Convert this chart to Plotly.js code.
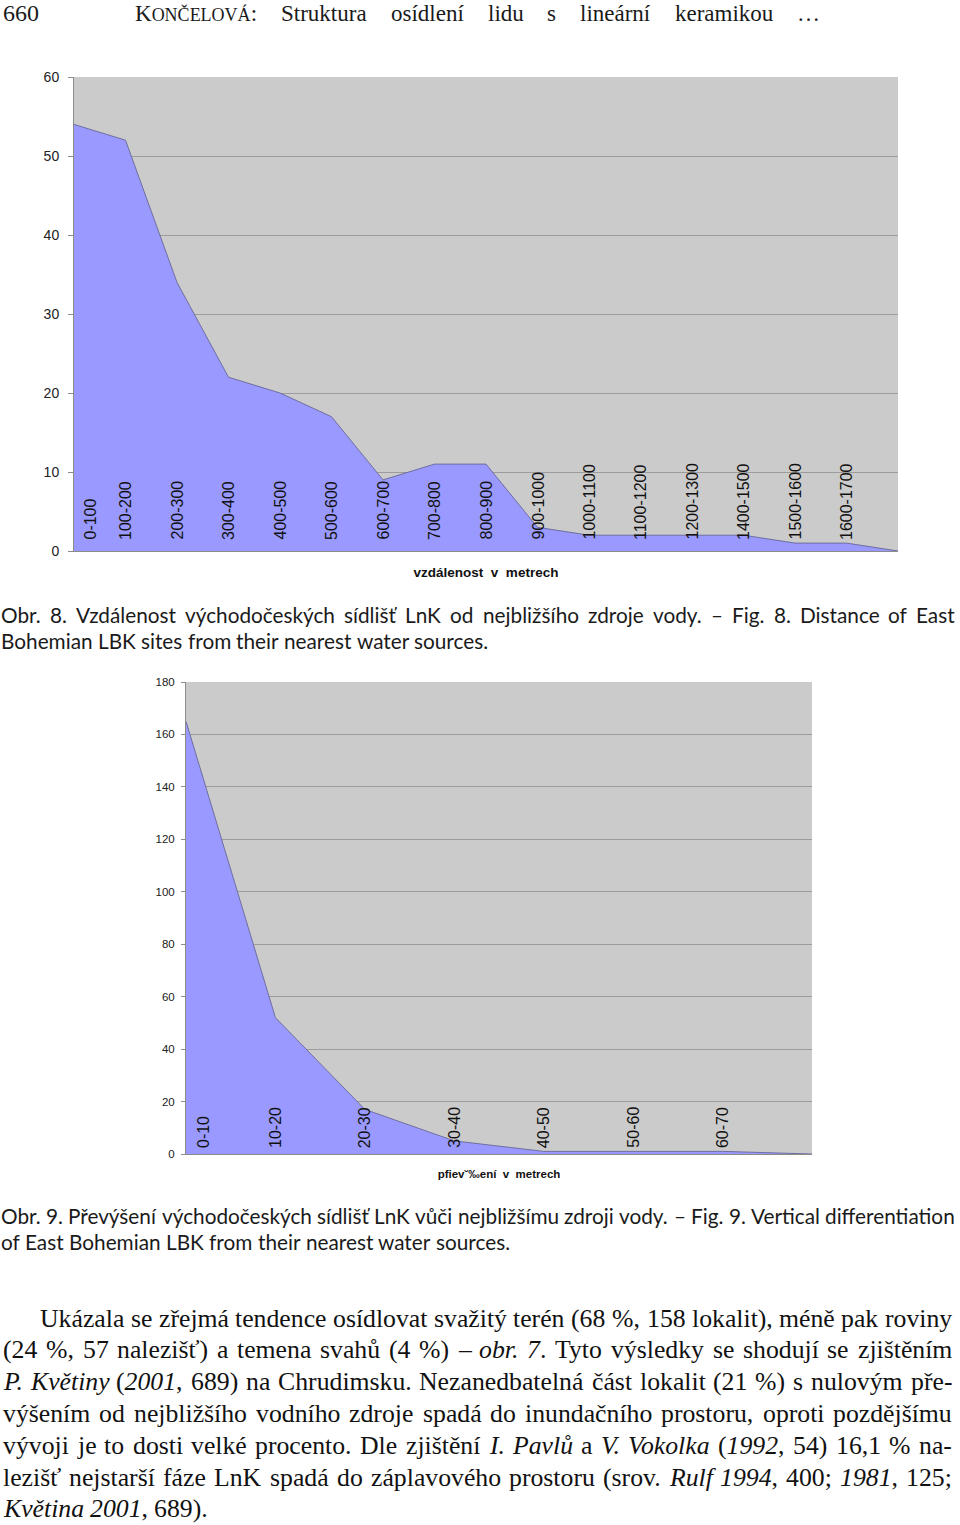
<!DOCTYPE html>
<html><head><meta charset="utf-8">
<script src="https://cdn.plot.ly/plotly-3.0.1.min.js"></script>
<style>html,body{margin:0;padding:0;background:#fff}#page{width:960px;height:1525px}</style>
</head><body><div id="page"></div>
<script>
// ---------- data ----------
const distCategories = ['0-100','100-200','200-300','300-400','400-500','500-600','600-700','700-800','800-900','900-1000','1000-1100','1100-1200','1200-1300','1400-1500','1500-1600','1600-1700'];
const distValues = [54,52,34,22,20,17,9,11,11,3,2,2,2,2,1,1,0];
const distYTicks = [0,10,20,30,40,50,60];
const distAxisTitle = 'vzdálenost\u00a0 v\u00a0 metrech';

const elevCategories = ['0-10','10-20','20-30','30-40','40-50','50-60','60-70'];
const elevValues = [165,52,17,5,1,1,1,0];
const elevYTicks = [0,20,40,60,80,100,120,140,160,180];
const elevAxisTitle = 'pfiev˘‰ení\u00a0 v\u00a0 metrech';

const pageNumber = '660';
const headerWords = ['Struktura','osídlení','lidu','s','lineární','keramikou','…'];
const caption8 = ['Obr. 8. Vzdálenost východočeských sídlišť LnK od nejbližšího zdroje vody. – Fig. 8. Distance of East',
                  'Bohemian LBK sites from their nearest water sources.'];
const caption9 = ['Obr. 9. Převýšení východočeských sídlišť LnK vůči nejbližšímu zdroji vody. – Fig. 9. Vertical differentiation',
                  'of East Bohemian LBK from their nearest water sources.'];
const bodyLines = [
  'Ukázala se zřejmá tendence osídlovat svažitý terén (68 %, 158 lokalit), méně pak roviny',
  '(24 %, 57 nalezišť) a temena svahů (4 %) – <i>obr. 7</i>. Tyto výsledky se shodují se zjištěním',
  '<i>P. Květiny</i> (<i>2001</i>, 689) na Chrudimsku. Nezanedbatelná část lokalit (21 %) s nulovým pře-',
  'výšením od nejbližšího vodního zdroje spadá do inundačního prostoru, oproti pozdějšímu',
  'vývoji je to dosti velké procento. Dle zjištění <i>I. Pavlů</i> a <i>V. Vokolka</i> (<i>1992</i>, 54) 16,1 % na-',
  'lezišť nejstarší fáze LnK spadá do záplavového prostoru (srov. <i>Rulf 1994</i>, 400; <i>1981</i>, 125;',
  '<i>Květina 2001</i>, 689).'
];

// ---------- text layout helpers ----------
const W = 960, H = 1525;
const ctx = document.createElement('canvas').getContext('2d');
function segW(s, fam, fs){ ctx.font = (s.it?'italic ':'') + (s.fs||fs) + 'px "' + fam + '"'; return ctx.measureText(s.t).width; }
function parseLine(str){
  const words = []; let it = false;
  for (const w of str.split(' ')){
    const segs = []; const re = /<i>|<\/i>/g; let last = 0, m;
    while ((m = re.exec(w))){ if (m.index > last) segs.push({t:w.slice(last,m.index), it}); it = (m[0]==='<i>'); last = re.lastIndex; }
    if (last < w.length) segs.push({t:w.slice(last), it});
    words.push(segs);
  }
  return words;
}
function wordHtml(segs){
  return segs.map(s=>{ let t = s.t; if (s.fs) t = '<span style="font-size:'+s.fs+'px">'+t+'</span>'; return s.it ? '<i>'+t+'</i>' : t; }).join('');
}
function naturalWidth(words, fam, fs){
  const sp = segW({t:' '}, fam, fs);
  return words.reduce((a,w)=>a+w.reduce((b,s)=>b+segW(s,fam,fs),0),0) + sp*(words.length-1);
}
const anns = [];
function layLine(words, x0, x1, ypx, fam, fs, color, justify){
  const ws = words.map(w=>w.reduce((a,s)=>a+segW(s,fam,fs),0));
  const total = ws.reduce((a,b)=>a+b,0);
  const gap = (justify && words.length>1) ? (x1-x0-total)/(words.length-1) : segW({t:' '},fam,fs);
  let x = x0;
  words.forEach((w,i)=>{
    anns.push({xref:'paper', yref:'paper', x:x/W, y:1-ypx/H, xanchor:'left', yanchor:'middle',
      text:wordHtml(w), showarrow:false, borderpad:0, borderwidth:0,
      font:{family:fam, size:fs, color:color}});
    x += ws[i] + gap;
  });
}

// ---------- header ----------
const SERIF = 'Liberation Serif', SANS = 'Liberation Sans', CAP = 'Lato';
anns.push({xref:'paper', yref:'paper', x:3/W, y:1-13/H, xanchor:'left', yanchor:'middle', text:pageNumber,
  showarrow:false, borderpad:0, borderwidth:0, font:{family:SERIF, size:24, color:'#1a1a1a'}});
const headWords = [[{t:'K'},{t:'ONČELOVÁ',fs:18},{t:':'}]].concat(headerWords.map(w=>[{t:w}]));
layLine(headWords, 135, 820, 13, SERIF, 23, '#1a1a1a', true);

// ---------- captions (font size calibrated to the printed line widths) ----------
const capLines = [caption8[0], caption8[1], caption9[0], caption9[1]].map(parseLine);
const capTargets = [955, 488, 955, 510];
let capFs = 19;
capFs = capFs * Math.min(...capLines.map((l,i)=>capTargets[i]/naturalWidth(l, CAP, 19)));
layLine(capLines[0], 1, 955, 614, CAP, capFs, '#1a1a1a', true);
layLine(capLines[1], 1, 955, 640, CAP, capFs, '#1a1a1a', false);
layLine(capLines[2], 1, 955, 1215, CAP, capFs, '#1a1a1a', true);
layLine(capLines[3], 1, 955, 1241, CAP, capFs, '#1a1a1a', false);

// ---------- body text ----------
const body = bodyLines.map(parseLine);
const bodyStarts = [40,3,3,3,3,3,3];
let bodyFs = 24;
bodyFs = bodyFs * Math.min(...body.slice(0,6).map((l,i)=>(952-bodyStarts[i])/naturalWidth(l, SERIF, 24)));
body.forEach((l,i)=>layLine(l, bodyStarts[i], 952, 1318 + i*31.8, SERIF, bodyFs, '#111', i<6));

// ---------- category labels inside the plots ----------
distCategories.forEach((c,i)=>anns.push({xref:'x', yref:'y', x:i, y:0, xanchor:'center', yanchor:'bottom',
  yshift:11, xshift: i===0?16:0, textangle:-90, text:c, showarrow:false, borderpad:0, borderwidth:0,
  font:{family:SANS, size:16, color:'#111'}}));
elevCategories.forEach((c,i)=>anns.push({xref:'x2', yref:'y2', x:i, y:0, xanchor:'center', yanchor:'bottom',
  yshift:6, xshift: i===0?17:0, textangle:-90, text:c, showarrow:false, borderpad:0, borderwidth:0,
  font:{family:SANS, size:16, color:'#111'}}));

// ---------- traces ----------
const areaStyle = {type:'scatter', mode:'lines', fill:'tozeroy', fillcolor:'#9999ff',
  line:{color:'#6e6ea0', width:1}, hoverinfo:'skip'};
const traces = [
  Object.assign({x:distValues.map((v,i)=>i), y:distValues, xaxis:'x', yaxis:'y'}, areaStyle),
  Object.assign({x:elevValues.map((v,i)=>i), y:elevValues, xaxis:'x2', yaxis:'y2'}, areaStyle)
];

const GRID = '#9c9c9c', AX = '#8c8c8c';
const layout = {
  width:W, height:H, margin:{l:0,r:0,t:0,b:0}, paper_bgcolor:'#ffffff', plot_bgcolor:'#cbcbcb',
  showlegend:false,
  xaxis:{domain:[74/W,898/W], range:[0,distValues.length-1], anchor:'y', showgrid:false, zeroline:false,
    showline:true, linecolor:AX, linewidth:1, ticks:'', showticklabels:false, fixedrange:true,
    title:{text:distAxisTitle, standoff:16, font:{family:SANS, size:13.5, color:'#111', weight:'bold'}}},
  yaxis:{domain:[1-551/H,1-77/H], range:[0,60], anchor:'x', tickvals:distYTicks, showgrid:true, gridcolor:GRID,
    gridwidth:1, zeroline:false, showline:true, linecolor:AX, linewidth:1, ticks:'outside', ticklen:5,
    tickcolor:AX, ticklabelstandoff:6, tickfont:{family:SANS, size:14, color:'#222'}, fixedrange:true},
  xaxis2:{domain:[186/W,812/W], range:[0,elevValues.length-1], anchor:'y2', showgrid:false, zeroline:false,
    showline:true, linecolor:AX, linewidth:1, ticks:'', showticklabels:false, fixedrange:true,
    title:{text:elevAxisTitle, standoff:15, font:{family:SANS, size:11.5, color:'#111', weight:'bold'}}},
  yaxis2:{domain:[1-1154/H,1-682/H], range:[0,180], anchor:'x2', tickvals:elevYTicks, showgrid:true, gridcolor:GRID,
    gridwidth:1, zeroline:false, showline:true, linecolor:AX, linewidth:1, ticks:'outside', ticklen:4,
    tickcolor:AX, ticklabelstandoff:4, tickfont:{family:SANS, size:11.5, color:'#222'}, fixedrange:true},
  annotations:anns
};
Plotly.newPlot('page', traces, layout, {staticPlot:true, displayModeBar:false});
</script></body></html>
